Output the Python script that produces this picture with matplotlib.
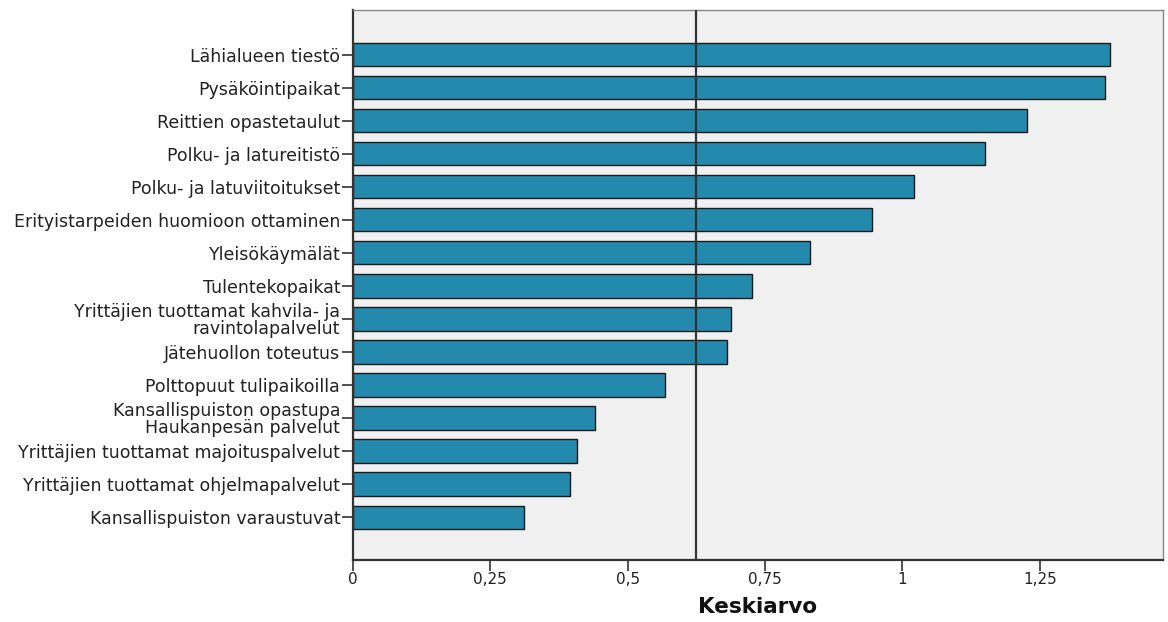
import matplotlib
matplotlib.use("Agg")
import matplotlib.pyplot as plt

categories = [
    "Lähialueen tiestö",
    "Pysäköintipaikat",
    "Reittien opastetaulut",
    "Polku- ja latureitistö",
    "Polku- ja latuviitoitukset",
    "Erityistarpeiden huomioon ottaminen",
    "Yleisökäymälät",
    "Tulentekopaikat",
    "Yrittäjien tuottamat kahvila- ja\nravintolapalvelut",
    "Jätehuollon toteutus",
    "Polttopuut tulipaikoilla",
    "Kansallispuiston opastupa\nHaukanpesän palvelut",
    "Yrittäjien tuottamat majoituspalvelut",
    "Yrittäjien tuottamat ohjelmapalvelut",
    "Kansallispuiston varaustuvat",
]
values = [1.377, 1.368, 1.226, 1.150, 1.021, 0.944, 0.832, 0.726, 0.688,
          0.680, 0.568, 0.440, 0.408, 0.395, 0.311]
ref_value = 0.624
xticks = [0, 0.25, 0.5, 0.75, 1, 1.25]
xticklabels = ["0", "0,25", "0,5", "0,75", "1", "1,25"]

plt.rcParams['font.family'] = ['DejaVu Sans']

fig = plt.figure(figsize=(11.68, 6.22), dpi=100)
ax = fig.add_axes([0.302, 0.0997, 0.6937, 0.8843])
ax.set_facecolor("#f0f0f0")

ypos = list(range(len(categories)))
ax.barh(ypos, values, height=0.7, color="#2389ad", edgecolor="#1a1a1a",
        linewidth=1.0, zorder=2)
ax.axvline(ref_value, color="#333333", linewidth=1.6, zorder=3)

ax.set_ylim(len(categories) - 1 + 1.3, -1.36)
ax.set_xlim(0, 1.474)
ax.set_yticks(ypos)
ax.set_yticklabels(categories, fontsize=12.5, color="#222222",
                   multialignment="right", linespacing=0.95)
ax.set_xticks(xticks)
ax.set_xticklabels(xticklabels, fontsize=11, color="#222222")
ax.tick_params(axis="y", length=8, width=1.2, color="#333333", pad=1)
ax.tick_params(axis="x", length=8, width=1.2, color="#333333", pad=1)

for side in ["left", "bottom"]:
    ax.spines[side].set_color("#333333")
    ax.spines[side].set_linewidth(1.6)
for side in ["right", "top"]:
    ax.spines[side].set_color("#888888")
    ax.spines[side].set_linewidth(1.0)

ax.set_xlabel("Keskiarvo", fontsize=15.5, fontweight="bold", labelpad=7,
              color="#111111")

fig.savefig("out.png", dpi=100)
